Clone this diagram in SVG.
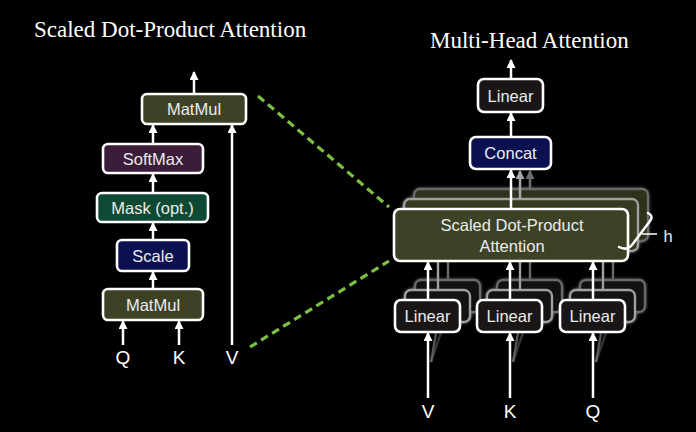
<svg xmlns="http://www.w3.org/2000/svg" width="696" height="432" viewBox="0 0 696 432">
<defs>
<marker id="ah" viewBox="0 0 10 10" refX="9" refY="5" markerWidth="10" markerHeight="9" markerUnits="userSpaceOnUse" orient="auto">
<path d="M0,0 L10,5 L0,10 Z" fill="#ffffff"/>
</marker>
<marker id="ahg" viewBox="0 0 10 10" refX="9" refY="5" markerWidth="10" markerHeight="9" markerUnits="userSpaceOnUse" orient="auto">
<path d="M0,0 L10,5 L0,10 Z" fill="#a8a8a8"/>
</marker>
<marker id="ahd" viewBox="0 0 10 10" refX="9" refY="5" markerWidth="10" markerHeight="9" markerUnits="userSpaceOnUse" orient="auto">
<path d="M0,0 L10,5 L0,10 Z" fill="#6e6e6e"/>
</marker>
<filter id="glow" x="-20%" y="-40%" width="140%" height="180%">
<feGaussianBlur stdDeviation="1.5"/>
</filter>
</defs>
<style>
.box{stroke:#ffffff;stroke-width:2.6}
.back1{stroke:#a0a0a0;stroke-width:2.4}
.back2{stroke:#6a6a6a;stroke-width:2.4}
.olive{fill:#3d4226}
.olive1{fill:#363a21}
.olive2{fill:#2e311c}
.purple{fill:#3b1d3a}
.green{fill:#0e4a33}
.navy{fill:#0b1150}
.dark{fill:#1b1616}
.lbl{font-family:"Liberation Sans",Arial,sans-serif;font-size:16.5px;fill:#ececec;text-anchor:middle}
.io{font-family:"Liberation Sans",Arial,sans-serif;font-size:19px;fill:#ffffff;text-anchor:middle}
.title{font-family:"Liberation Serif","Times New Roman",serif;font-size:23px;fill:#ffffff}
.arr{stroke:#ffffff;stroke-width:2.5;fill:none;marker-end:url(#ah)}
.dash{stroke:#7cc043;stroke-width:3.2;stroke-dasharray:8,5;fill:none}
</style>
<rect x="0" y="0" width="696" height="432" fill="#000000"/>

<text class="title" x="34" y="37">Scaled Dot-Product Attention</text>
<text class="title" x="430" y="48">Multi-Head Attention</text>

<!-- back layers (multi-head) -->
<g id="mha-back-layers">
<g filter="url(#glow)" opacity="0.6">
<rect x="414" y="189" width="234" height="52" rx="6" fill="none" stroke="#888" stroke-width="3"/>
<rect x="404" y="199" width="234" height="52" rx="6" fill="none" stroke="#aaa" stroke-width="3"/>
</g>
<rect class="back2 olive2" x="414" y="189" width="234" height="52" rx="6"/>
<rect class="back1 olive1" x="404" y="199" width="234" height="52" rx="6"/>
<g filter="url(#glow)" opacity="0.6">
<rect x="415" y="280" width="65" height="32" rx="6" fill="none" stroke="#888" stroke-width="3"/>
<rect x="405" y="290" width="65" height="32" rx="6" fill="none" stroke="#aaa" stroke-width="3"/>
<rect x="497" y="280" width="65" height="32" rx="6" fill="none" stroke="#888" stroke-width="3"/>
<rect x="487" y="290" width="65" height="32" rx="6" fill="none" stroke="#aaa" stroke-width="3"/>
<rect x="580" y="280" width="65" height="32" rx="6" fill="none" stroke="#888" stroke-width="3"/>
<rect x="570" y="290" width="65" height="32" rx="6" fill="none" stroke="#aaa" stroke-width="3"/>
</g>
<rect class="back2" fill="#111" x="415" y="280" width="65" height="32" rx="6"/>
<rect class="back1" fill="#151212" x="405" y="290" width="65" height="32" rx="6"/>
<rect class="back2" fill="#111" x="497" y="280" width="65" height="32" rx="6"/>
<rect class="back1" fill="#151212" x="487" y="290" width="65" height="32" rx="6"/>
<rect class="back2" fill="#111" x="580" y="280" width="65" height="32" rx="6"/>
<rect class="back1" fill="#151212" x="570" y="290" width="65" height="32" rx="6"/>
</g>

<!-- connectors -->
<g id="connectors">
<!-- left -->
<line class="arr" x1="194" y1="94" x2="194" y2="72"/>
<line class="arr" x1="153" y1="144" x2="153" y2="125"/>
<line class="arr" x1="153" y1="193" x2="153" y2="174"/>
<line class="arr" x1="153" y1="240" x2="153" y2="223"/>
<line class="arr" x1="153" y1="289" x2="153" y2="272"/>
<line class="arr" x1="123" y1="345" x2="123" y2="321"/>
<line class="arr" x1="179" y1="345" x2="179" y2="321"/>
<line class="arr" x1="232" y1="345" x2="232" y2="125"/>
<!-- dashed zoom lines -->
<line class="dash" x1="258" y1="96" x2="389" y2="207"/>
<line class="dash" x1="250" y1="347" x2="389" y2="261"/>
<!-- right -->
<line class="arr" x1="511" y1="79" x2="511" y2="60"/>
<line class="arr" x1="511" y1="137" x2="511" y2="113"/>
<line x1="530" y1="189" x2="530" y2="171" stroke="#6e6e6e" stroke-width="2.5" marker-end="url(#ahd)"/>
<line x1="520" y1="199" x2="520" y2="171" stroke="#a8a8a8" stroke-width="2.5" marker-end="url(#ahg)"/>
<line class="arr" x1="511" y1="209" x2="511" y2="170"/>
<!-- back vertical lines from back linears -->
<g stroke-width="2.4" fill="none">
<line x1="448" y1="280" x2="448" y2="241" stroke="#6a6a6a"/>
<line x1="438" y1="290" x2="438" y2="251" stroke="#a0a0a0"/>
<line x1="530" y1="280" x2="530" y2="241" stroke="#6a6a6a"/>
<line x1="520" y1="290" x2="520" y2="251" stroke="#a0a0a0"/>
<line x1="613" y1="280" x2="613" y2="241" stroke="#6a6a6a"/>
<line x1="603" y1="290" x2="603" y2="251" stroke="#a0a0a0"/>
<line x1="431" y1="362" x2="448" y2="312" stroke="#555" opacity="0.6"/>
<line x1="431" y1="362" x2="438" y2="322" stroke="#888" opacity="0.6"/>
<line x1="513" y1="362" x2="530" y2="312" stroke="#555" opacity="0.6"/>
<line x1="513" y1="362" x2="520" y2="322" stroke="#888" opacity="0.6"/>
<line x1="596" y1="362" x2="613" y2="312" stroke="#555" opacity="0.6"/>
<line x1="596" y1="362" x2="603" y2="322" stroke="#888" opacity="0.6"/>
</g>
<line class="arr" x1="428" y1="300" x2="428" y2="262"/>
<line class="arr" x1="510" y1="300" x2="510" y2="262"/>
<line class="arr" x1="593" y1="300" x2="593" y2="262"/>
<line class="arr" x1="428" y1="398" x2="428" y2="333"/>
<line class="arr" x1="510" y1="398" x2="510" y2="333"/>
<line class="arr" x1="593" y1="398" x2="593" y2="333"/>
</g>

<!-- left nodes -->
<g id="sdpa-matmul-top">
<rect class="box olive" x="142" y="94" width="104" height="30" rx="5"/>
<text class="lbl" x="194" y="115">MatMul</text>
</g>
<g id="sdpa-softmax">
<rect class="box purple" x="103" y="144" width="100" height="29" rx="5"/>
<text class="lbl" x="153" y="164.5">SoftMax</text>
</g>
<g id="sdpa-mask">
<rect class="box green" x="97" y="193" width="111" height="29" rx="5"/>
<text class="lbl" x="152.5" y="213.5">Mask (opt.)</text>
</g>
<g id="sdpa-scale">
<rect class="box navy" x="117" y="240" width="72" height="31" rx="5"/>
<text class="lbl" x="153" y="261.5">Scale</text>
</g>
<g id="sdpa-matmul-bottom">
<rect class="box olive" x="103" y="289" width="100" height="31" rx="5"/>
<text class="lbl" x="153" y="310.5">MatMul</text>
</g>
<g id="sdpa-inputs">
<text class="io" x="123" y="364">Q</text>
<text class="io" x="179" y="364">K</text>
<text class="io" x="232" y="364">V</text>
</g>

<!-- right nodes -->
<g id="mha-linear-out">
<rect class="box dark" x="478" y="79" width="65" height="33" rx="6"/>
<text class="lbl" x="510.5" y="101.5">Linear</text>
</g>
<g id="mha-concat">
<rect class="box navy" x="470" y="137" width="81" height="32" rx="6"/>
<text class="lbl" x="510.5" y="159">Concat</text>
</g>
<g id="mha-sdpa">
<rect class="box olive" x="394" y="209" width="234" height="52" rx="6"/>
<text class="lbl" x="512" y="231">Scaled Dot-Product</text>
<text class="lbl" x="512" y="252">Attention</text>
</g>
<g id="mha-h-label">
<path d="M648,213 Q654,216 650,221 L632,245 Q627,251 619,247" stroke="#ffffff" stroke-width="2.5" fill="none" stroke-linecap="round"/>
<line x1="642" y1="234" x2="657" y2="234" stroke="#ffffff" stroke-width="1.5"/>
<text class="lbl" x="668" y="242">h</text>
</g>
<g id="mha-linear-v">
<rect class="box dark" x="395" y="300" width="65" height="32" rx="6"/>
<text class="lbl" x="427.5" y="322">Linear</text>
</g>
<g id="mha-linear-k">
<rect class="box dark" x="477" y="300" width="65" height="32" rx="6"/>
<text class="lbl" x="509.5" y="322">Linear</text>
</g>
<g id="mha-linear-q">
<rect class="box dark" x="560" y="300" width="65" height="32" rx="6"/>
<text class="lbl" x="592.5" y="322">Linear</text>
</g>
<g id="mha-inputs">
<text class="io" x="428" y="418">V</text>
<text class="io" x="510" y="418">K</text>
<text class="io" x="593" y="418">Q</text>
</g>
</svg>
